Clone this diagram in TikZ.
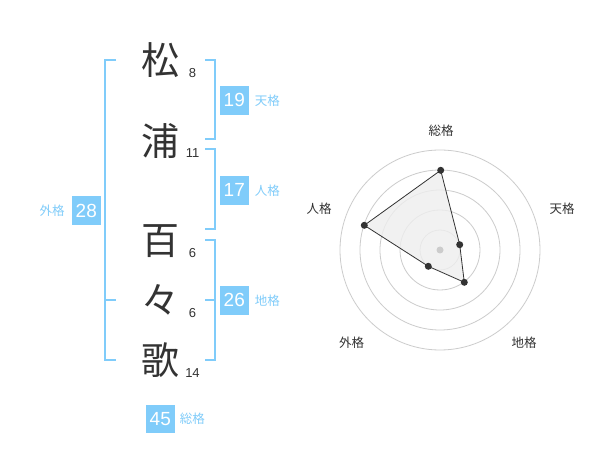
\documentclass[tikz,border=0pt]{standalone}
\usepackage{fontspec}
\setmainfont{Liberation Sans}
\newfontfamily\cjk{Noto Sans CJK JP}
\definecolor{sky}{RGB}{128,204,250}
\definecolor{ink}{RGB}{51,51,51}
\definecolor{ring}{RGB}{204,204,204}
\definecolor{fillg}{RGB}{238,238,238}
\begin{document}
\begin{tikzpicture}[x=1pt,y=-1pt,
  bigchar/.style={font=\cjk\fontsize{38}{38}\selectfont, text=ink, inner sep=0pt},
  strokes/.style={font=\fontsize{13}{13}\selectfont, text=ink, inner sep=0pt},
  valbox/.style={fill=sky, text=white, minimum width=28.5pt, minimum height=28.5pt, inner sep=0pt, font=\fontsize{19}{19}\selectfont},
  kaku/.style={font=\cjk\fontsize{12.5}{12.5}\selectfont, text=sky, inner sep=0pt},
  brk/.style={draw=sky, line width=2pt},
  axlabel/.style={font=\cjk\fontsize{12.5}{12.5}\selectfont, text=ink, inner sep=0pt},
  dot/.style={circle, fill=ink, inner sep=0pt, minimum size=7pt}]
\useasboundingbox (0,0) rectangle (600,470);
\fill[white] (0,0) rectangle (600,470);

% characters
\node[bigchar] (c1) at (160,60) {松};
\node[bigchar] (c2) at (160,141) {浦};
\node[bigchar] (c3) at (160,241) {百};
\node[bigchar] (c4) at (160,300) {々};
\node[bigchar] (c5) at (160,360) {歌};
\node[strokes] (n1) at (192.5,73) {8};
\node[strokes] (n2) at (192.5,153.5) {11};
\node[strokes] (n3) at (192.5,253.5) {6};
\node[strokes] (n4) at (192.5,313) {6};
\node[strokes] (n5) at (192.5,373.5) {14};

% left bracket
\draw[brk] (116,60) -- (105,60) -- (105,360) -- (116,360);
\draw[brk] (105,300) -- (116,300);
% right brackets
\draw[brk] (205,60) -- (214.5,60) -- (214.5,139.5) -- (205,139.5);
\draw[brk] (205,149.5) -- (214.5,149.5) -- (214.5,229) -- (205,229);
\draw[brk] (205,240) -- (214.5,240) -- (214.5,360) -- (205,360);
\draw[brk] (205,300) -- (214.5,300);

% value boxes
\node[valbox] (b19) at (234.3,100.3) {19};
\node[kaku, anchor=west] (k19) at ([xshift=6pt]b19.east) {天格};
\node[valbox] (b17) at (234.3,190.3) {17};
\node[kaku, anchor=west] (k17) at ([xshift=6pt]b17.east) {人格};
\node[valbox] (b26) at (234.3,300.3) {26};
\node[kaku, anchor=west] (k26) at ([xshift=6pt]b26.east) {地格};
\node[valbox] (b28) at (86.3,210.5) {28};
\node[kaku, anchor=east] (k28) at ([xshift=-7pt]b28.west) {外格};
\node[valbox] (b45) at (160.3,419) {45};
\node[kaku, anchor=west] (k45) at ([xshift=5pt]b45.east) {総格};

% radar
\coordinate (o) at (440,250);
\foreach \r in {20,40,60,80,100} \draw[ring, line width=0.8pt] (o) circle (\r);
\coordinate (p1) at (440.7,170.3);
\coordinate (p2) at (459.7,244.7);
\coordinate (p3) at (464.3,282.3);
\coordinate (p4) at (428.3,266.3);
\coordinate (p5) at (364.3,225.3);
\filldraw[fill=fillg, fill opacity=0.8, draw=ink, line width=0.8pt] (p1) -- (p2) -- (p3) -- (p4) -- (p5) -- cycle;
\node[circle, fill=ring, inner sep=0pt, minimum size=7pt] (ctr) at (o) {};
\foreach \p in {p1,p2,p3,p4,p5} \node[dot] at (\p) {};
\node[axlabel] (l1) at (441,130.5) {総格};
\node[axlabel] (l2) at (562,208.3) {天格};
\node[axlabel] (l3) at (524,342.3) {地格};
\node[axlabel] (l4) at (351.7,342.3) {外格};
\node[axlabel] (l5) at (319,208.3) {人格};
\end{tikzpicture}
\end{document}
